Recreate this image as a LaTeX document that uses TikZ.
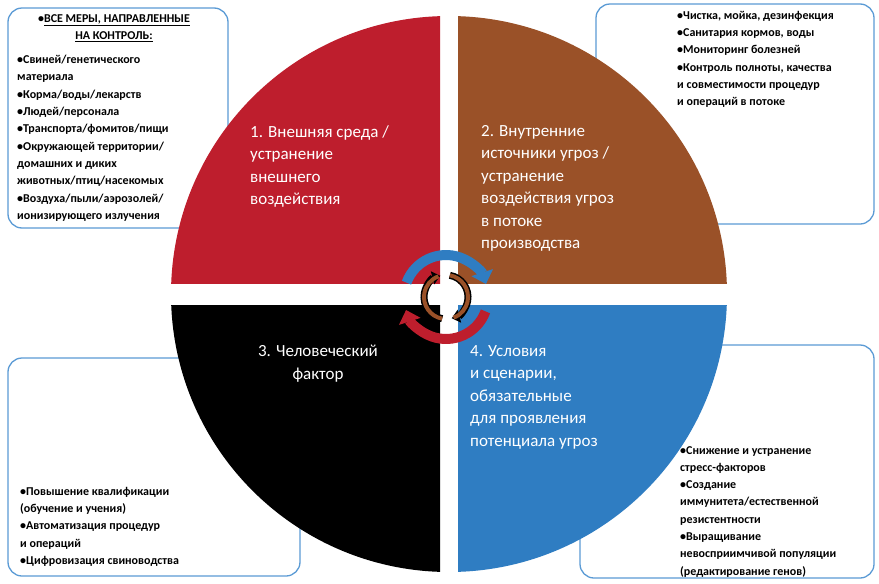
\documentclass[tikz,border=0pt]{standalone}
\usepackage{fontspec}
\setmainfont{Carlito}[BoldFont={Carlito Bold}]
\usetikzlibrary{arrows.meta,calc}
\definecolor{qred}{HTML}{BE1E2D}
\definecolor{qbrown}{HTML}{9A5128}
\definecolor{qblue}{HTML}{2F7DC2}
\definecolor{bline}{HTML}{5B9BD5}
\tikzset{
 infobox/.style={draw=bline,line width=1.3pt,fill=white,rounded corners=14pt},
 infotext/.style={anchor=north west,align=left,inner sep=0pt,font=\fontsize{12}{17.3}\selectfont\bfseries},
 qtext/.style={anchor=north west,align=left,inner sep=0pt,text=white,font=\fontsize{17}{22.5}\selectfont},
}
\begin{document}
\begin{tikzpicture}[x=1pt,y=-1pt]
\useasboundingbox (0,0) rectangle (879,584);
\fill[white] (0,0) rectangle (879,584);
% boxes
\draw[infobox] (8,8) rectangle (228,228);
\draw[infobox] (596,4) rectangle (874,224);
\draw[infobox] (8,358) rectangle (300,576);
\draw[infobox] (580,345) rectangle (874,578);
% quadrants
\coordinate (C) at (449,294);
\begin{scope}\clip (0,0) rectangle (440,283); \fill[qred] (C) circle (278); \end{scope}
\begin{scope}\clip (458,0) rectangle (879,283); \fill[qbrown] (C) circle (278); \end{scope}
\begin{scope}\clip (0,305) rectangle (440,584); \fill[black] (C) circle (278); \end{scope}
\begin{scope}\clip (458,305) rectangle (879,584); \fill[qblue] (C) circle (278); \end{scope}
% quadrant texts
\node[qtext] (q1) at (250,125) {1. Внешняя среда /\\устранение\\внешнего\\воздействия};
\node[qtext] (q2) at (481,125) {2. Внутренние\\источники угроз /\\устранение\\воздействия угроз\\в потоке\\производства};
\node[qtext,align=center,anchor=north] (q3) at (318,345) {3. Человеческий\\фактор};
\node[qtext] (q4) at (470,345) {4. Условия\\и сценарии,\\обязательные\\для проявления\\потенциала угроз};
% box texts
\node[infotext,align=center,anchor=north] (h1) at (114,14) {•\underline{ВСЕ МЕРЫ, НАПРАВЛЕННЫЕ}\\\underline{НА КОНТРОЛЬ:}};
\node[infotext] (t1) at (17,55) {•Свиней/генетического\\материала\\•Корма/воды/лекарств\\•Людей/персонала\\•Транспорта/фомитов/пищи\\•Окружающей территории/\\домашних и диких\\животных/птиц/насекомых\\•Воздуха/пыли/аэрозолей/\\ионизирующего излучения};
\node[infotext] (t2) at (677,11) {•Чистка, мойка, дезинфекция\\•Санитария кормов, воды\\•Мониторинг болезней\\•Контроль полноты, качества\\и совместимости процедур\\и операций в потоке};
\node[infotext] (t3) at (20,487) {•Повышение квалификации\\ (обучение и учения)\\•Автоматизация процедур\\и операций\\•Цифровизация свиноводства};
\node[infotext] (t4) at (680,446) {•Снижение и устранение\\стресс-факторов\\•Создание\\иммунитета/естественной\\резистентности\\•Выращивание\\невосприимчивой популяции\\(редактирование генов)};
% centre arrows
\coordinate (O) at (446,297);
\draw[qblue,line width=10pt,-{Triangle[width=22pt,length=12pt]}] ($(O)+(-160:42)$) arc[start angle=-160,end angle=-18,radius=42];
\draw[qred,line width=10pt,-{Triangle[width=22pt,length=12pt]}] ($(O)+(20:42)$) arc[start angle=20,end angle=162,radius=42];
\draw[black,line width=7pt,-{Triangle[width=13pt,length=8pt]}] ($(O)+(-80:22)$) arc[start angle=-80,end angle=75,radius=22];
\draw[qbrown,line width=4pt] ($(O)+(-80:22)$) arc[start angle=-80,end angle=70,radius=22];
\draw[black,line width=7pt,-{Triangle[width=13pt,length=8pt]}] ($(O)+(100:22)$) arc[start angle=100,end angle=255,radius=22];
\draw[qbrown,line width=4pt] ($(O)+(100:22)$) arc[start angle=100,end angle=250,radius=22];
\end{tikzpicture}
\end{document}
